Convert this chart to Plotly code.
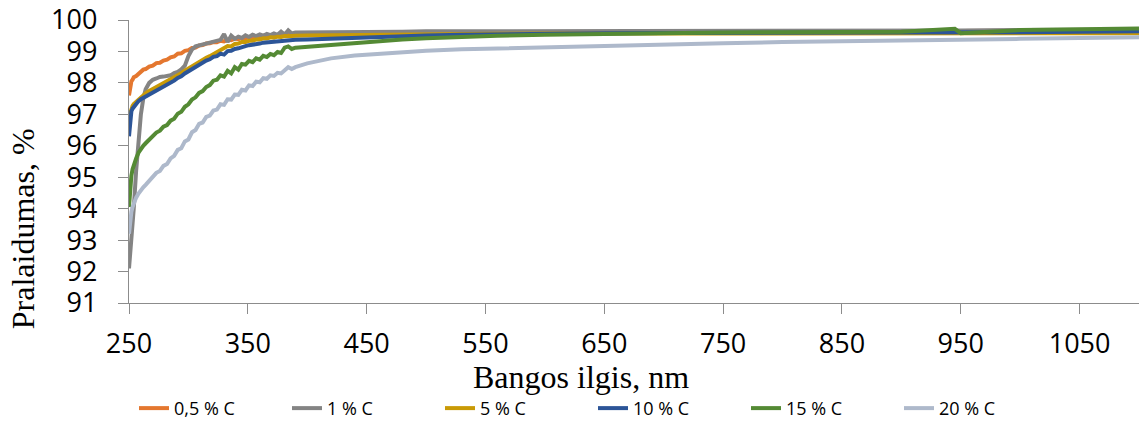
import plotly.graph_objects as go

wavelength = [250, 251, 252, 253, 254, 256, 258, 260, 262, 264,
              267, 270, 273, 276, 279, 282, 285, 288, 291, 294, 297, 300, 303, 306, 309, 312, 315, 318, 321, 324,
              327, 330, 333, 336, 339, 342, 345, 348, 351, 354, 357, 360, 363, 366, 369, 372, 375, 378, 381, 384,
              387, 390,
              400, 420, 440, 460, 480, 500, 530, 560, 600, 650, 700, 750, 800, 850, 900, 945, 950, 1000, 1050, 1100]

c_05 = [97.6, 97.95, 98.05, 98.1, 98.18, 98.22, 98.3, 98.34, 98.42, 98.44,
        98.52, 98.55, 98.63, 98.64, 98.71, 98.74, 98.81, 98.84, 98.93, 98.94, 99.02, 99.04, 99.11, 99.12, 99.19, 99.2, 99.25, 99.26, 99.3, 99.29,
        99.34, 99.32, 99.37, 99.36, 99.41, 99.39, 99.43, 99.42, 99.46, 99.45, 99.48, 99.47, 99.5, 99.49, 99.52, 99.51, 99.53, 99.52, 99.55, 99.54,
        99.56, 99.55,
        99.56, 99.57, 99.58, 99.59, 99.6, 99.6, 99.61, 99.62, 99.62, 99.63, 99.63, 99.63, 99.64, 99.64, 99.64, 99.65, 99.65, 99.66, 99.66, 99.67]

c_1 = [92.1, 92.5, 93.0, 93.5, 94.0, 95.2, 96.3, 97.0, 97.5, 97.8,
       98.0, 98.1, 98.14, 98.19, 98.2, 98.23, 98.24, 98.31, 98.35, 98.43, 98.55, 98.85, 99.06, 99.16, 99.19, 99.25, 99.25, 99.3, 99.31, 99.35,
       99.37, 99.55, 99.3, 99.5, 99.4, 99.47, 99.43, 99.51, 99.46, 99.53, 99.49, 99.54, 99.5, 99.56, 99.52, 99.57, 99.53, 99.63, 99.54, 99.67,
       99.57, 99.6,
       99.6, 99.61, 99.62, 99.63, 99.63, 99.64, 99.64, 99.65, 99.65, 99.66, 99.66, 99.66, 99.66, 99.66, 99.66, 99.67, 99.67, 99.68, 99.68, 99.69]

c_5 = [96.9, 97.05, 97.2, 97.27, 97.33, 97.4, 97.5, 97.56, 97.62, 97.67,
       97.74, 97.8, 97.86, 97.92, 97.98, 98.05, 98.12, 98.18, 98.25, 98.31, 98.39, 98.46, 98.54, 98.6, 98.68, 98.73, 98.8, 98.85, 98.92, 98.97,
       99.05, 99.1, 99.17, 99.16, 99.24, 99.25, 99.3, 99.3, 99.34, 99.34, 99.38, 99.38, 99.42, 99.41, 99.45, 99.44, 99.47, 99.46, 99.49, 99.48,
       99.5, 99.5,
       99.51, 99.52, 99.53, 99.54, 99.55, 99.55, 99.56, 99.56, 99.57, 99.57, 99.57, 99.57, 99.56, 99.56, 99.56, 99.56, 99.56, 99.57, 99.57, 99.58]

c_10 = [96.3, 96.85, 97.1, 97.18, 97.24, 97.32, 97.42, 97.48, 97.52, 97.57,
        97.64, 97.69, 97.76, 97.8, 97.87, 97.94, 98.01, 98.07, 98.16, 98.21, 98.3, 98.37, 98.45, 98.51, 98.59, 98.63, 98.71, 98.75, 98.83, 98.85,
        98.93, 98.9, 99.01, 99.02, 99.08, 99.1, 99.15, 99.17, 99.2, 99.21, 99.24, 99.25, 99.28, 99.29, 99.31, 99.31, 99.33, 99.33, 99.35, 99.34,
        99.36, 99.37,
        99.38, 99.41, 99.44, 99.47, 99.49, 99.51, 99.53, 99.55, 99.57, 99.58, 99.59, 99.59, 99.59, 99.59, 99.6, 99.6, 99.6, 99.61, 99.63, 99.64]

c_15 = [94.05, 94.7, 95.05, 95.25, 95.4, 95.6, 95.78, 95.9, 96.0, 96.08,
        96.2, 96.3, 96.42, 96.48, 96.61, 96.66, 96.8, 96.86, 97.02, 97.08, 97.24, 97.32, 97.47, 97.54, 97.68, 97.74, 97.87, 97.93, 98.07, 98.1,
        98.24, 98.2, 98.38, 98.3, 98.5, 98.42, 98.6, 98.58, 98.7, 98.66, 98.78, 98.74, 98.86, 98.82, 98.92, 98.88, 98.98, 98.95, 99.12, 99.16,
        99.08, 99.12,
        99.15, 99.22, 99.28, 99.33, 99.38, 99.42, 99.47, 99.5, 99.53, 99.56, 99.58, 99.6, 99.61, 99.62, 99.63, 99.72, 99.58, 99.68, 99.7, 99.73]

c_20 = [93.2, 93.6, 93.9, 94.05, 94.18, 94.35, 94.48, 94.6, 94.68, 94.76,
        94.9, 95.0, 95.14, 95.2, 95.36, 95.42, 95.6, 95.68, 95.87, 95.92, 96.14, 96.2, 96.43, 96.5, 96.7, 96.74, 96.92, 96.96, 97.12, 97.15,
        97.32, 97.3, 97.48, 97.47, 97.63, 97.62, 97.78, 97.76, 97.92, 97.9, 98.04, 98.02, 98.15, 98.13, 98.24, 98.22, 98.32, 98.3, 98.42, 98.5,
        98.44, 98.5,
        98.62, 98.78, 98.87, 98.93, 98.98, 99.02, 99.07, 99.1, 99.14, 99.18, 99.22, 99.26, 99.3, 99.32, 99.33, 99.36, 99.37, 99.4, 99.43, 99.45]

series_names = ["0,5 % C", "1 % C", "5 % C", "10 % C", "15 % C", "20 % C"]
series_values = [c_05, c_1, c_5, c_10, c_15, c_20]

x_ticks = [250, 350, 450, 550, 650, 750, 850, 950, 1050]
y_ticks = [91, 92, 93, 94, 95, 96, 97, 98, 99, 100]

colors = ["#E4772F", "#848484", "#C99A06", "#2C5598", "#548A34", "#AEB9CB"]

fig = go.Figure()
for name, vals, col in zip(series_names, series_values, colors):
    fig.add_trace(go.Scatter(x=wavelength, y=vals, mode="lines", name=name,
                             line=dict(color=col, width=4)))

axis_col = "#8C8C8C"
fig.update_layout(
    width=1139, height=425,
    margin=dict(l=129, r=0, t=20, b=122, autoexpand=False),
    paper_bgcolor="white", plot_bgcolor="white",
    showlegend=True,
    legend=dict(orientation="h", x=(134 - 129) / 1010, xanchor="left", y=(302.7 - 408) / 282.7, yanchor="middle",
                font=dict(family="Open Sans", size=18, color="#000000"),
                entrywidth=108, itemwidth=30, bgcolor="rgba(0,0,0,0)"),
    xaxis=dict(range=[250, 1100], tickvals=x_ticks, ticktext=[str(v) for v in x_ticks],
               showgrid=False, zeroline=False, showline=True, linecolor=axis_col, linewidth=1.3,
               ticks="outside", ticklen=10, tickwidth=1.3, tickcolor=axis_col,
               tickfont=dict(family="Open Sans", size=27, color="#000000"), ticklabelstandoff=6),
    yaxis=dict(range=[91, 100], tickvals=y_ticks, ticktext=[str(v) for v in y_ticks],
               showgrid=False, zeroline=False, showline=True, linecolor=axis_col, linewidth=1.3,
               ticks="outside", ticklen=10, tickwidth=1.3, tickcolor=axis_col,
               tickfont=dict(family="Open Sans", size=27, color="#000000"), ticklabelstandoff=15),
    annotations=[
        dict(text="Bangos ilgis, nm", xref="paper", yref="paper", x=(581 - 129) / 1010, y=(302.7 - 377) / 282.7,
             xanchor="center", yanchor="middle", showarrow=False,
             font=dict(family="Liberation Serif", size=32, color="#000000")),
        dict(text="Pralaidumas, %", xref="paper", yref="paper", x=(23 - 129) / 1010, y=(302.7 - 229) / 282.7,
             xanchor="center", yanchor="middle", showarrow=False, textangle=-90,
             font=dict(family="Liberation Serif", size=32, color="#000000")),
    ],
)

fig.write_html("out.html", post_script="document.body.style.margin='0';",
               config={"displayModeBar": False})
